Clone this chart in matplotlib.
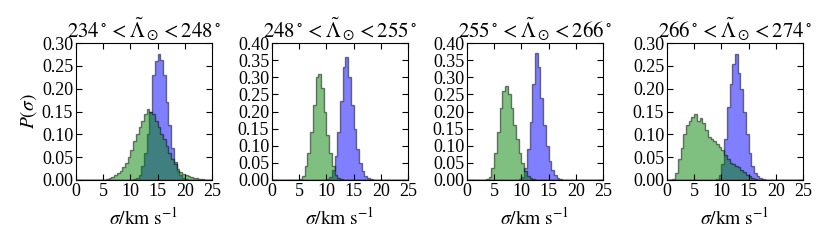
import matplotlib
matplotlib.use("Agg")
import matplotlib.pyplot as plt
import numpy as np

# réglages façon "classic"
plt.rcParams['font.family'] = ['Liberation Serif', 'DejaVu Serif']
plt.rcParams['mathtext.fontset'] = 'stix'
plt.rcParams['xtick.direction'] = 'in'
plt.rcParams['ytick.direction'] = 'in'
plt.rcParams['xtick.top'] = True
plt.rcParams['ytick.right'] = True

#######################
# données (hauteurs des barres, pas de 0.5 km/s)
#######################
edges = np.arange(0, 25.5, 0.5)

titles = [r"$234^\circ < \tilde{\Lambda}_\odot < 248^\circ$",
          r"$248^\circ < \tilde{\Lambda}_\odot < 255^\circ$",
          r"$255^\circ < \tilde{\Lambda}_\odot < 266^\circ$",
          r"$266^\circ < \tilde{\Lambda}_\odot < 274^\circ$"]
ymax = [0.30, 0.40, 0.40, 0.30]

blue1 = [0]*21 + [0.002, 0.005, 0.01, 0.03, 0.06, 0.10, 0.15, 0.23, 0.26, 0.275,
                  0.262, 0.23, 0.17, 0.12, 0.07, 0.04, 0.02, 0.01, 0.005, 0.003, 0.001]
green1 = [0]*10 + [0.001, 0.002, 0.004, 0.006, 0.01, 0.015, 0.02, 0.028, 0.038, 0.05,
                   0.065, 0.085, 0.10, 0.115, 0.13, 0.145, 0.155, 0.15, 0.145, 0.13,
                   0.115, 0.10, 0.09, 0.075, 0.06, 0.045, 0.035, 0.025, 0.018, 0.013,
                   0.01, 0.008, 0.006, 0.005, 0.004, 0.003, 0.002, 0.001, 0.001]

blue2 = [0]*20 + [0.003, 0.01, 0.03, 0.07, 0.14, 0.23, 0.33, 0.36, 0.30, 0.22,
                  0.15, 0.09, 0.05, 0.025, 0.012, 0.005, 0.002]
green2 = [0]*10 + [0.003, 0.012, 0.04, 0.08, 0.14, 0.22, 0.30, 0.31, 0.27, 0.20,
                   0.13, 0.08, 0.04, 0.015, 0.005, 0.002]

blue3 = [0]*19 + [0.003, 0.01, 0.035, 0.09, 0.17, 0.28, 0.37, 0.33, 0.24, 0.16,
                  0.10, 0.055, 0.03, 0.015, 0.006, 0.002]
green3 = [0]*7 + [0.002, 0.01, 0.035, 0.08, 0.14, 0.21, 0.26, 0.275, 0.25, 0.21,
                  0.16, 0.12, 0.08, 0.05, 0.025, 0.012, 0.005, 0.002]

blue4 = [0]*18 + [0.003, 0.01, 0.035, 0.09, 0.16, 0.21, 0.255, 0.275, 0.235, 0.20,
                  0.15, 0.10, 0.06, 0.03, 0.015, 0.008, 0.004, 0.002]
green4 = [0]*2 + [0.003, 0.015, 0.045, 0.07, 0.10, 0.12, 0.13, 0.138, 0.145, 0.13,
                  0.135, 0.125, 0.11, 0.095, 0.09, 0.085, 0.078, 0.072, 0.065, 0.055,
                  0.045, 0.038, 0.035, 0.03, 0.028, 0.022, 0.018, 0.012, 0.008, 0.005,
                  0.003, 0.001]

blues = [blue1, blue2, blue3, blue4]
greens = [green1, green2, green3, green4]

#######################
# figure
#######################
fig = plt.figure(figsize=(8.3, 2.42), dpi=100)
centres = 0.5*(edges[:-1] + edges[1:])
lefts = [76, 272, 467, 667]

for k in range(4):
    ax = fig.add_axes([lefts[k]/830, 1-180/242, 136/830, 137/242])
    for serie, coul in [(blues[k], 'b'), (greens[k], 'g')]:
        h = np.zeros(len(centres))
        h[:len(serie)] = serie
        ax.hist(centres, bins=edges, weights=h, histtype='stepfilled',
                facecolor=coul, edgecolor='k', alpha=0.5, linewidth=1)
    ax.set_xlim(0, 25)
    ax.set_ylim(0, ymax[k])
    ax.set_xticks([0, 5, 10, 15, 20, 25])
    ax.set_yticks(np.arange(0, ymax[k] + 0.001, 0.05))
    ax.yaxis.set_major_formatter(matplotlib.ticker.FormatStrFormatter('%.2f'))
    ax.tick_params(labelsize=13, length=4, width=0.8, pad=2)
    ax.set_title(titles[k], fontsize=15, pad=2)
    ax.set_xlabel(r"$\sigma/\mathrm{km\ s^{-1}}$", fontsize=14, labelpad=5)
    if k == 0:
        ax.set_ylabel(r"$P(\sigma)$", fontsize=14, labelpad=2)

fig.savefig("out.png", dpi=100)
